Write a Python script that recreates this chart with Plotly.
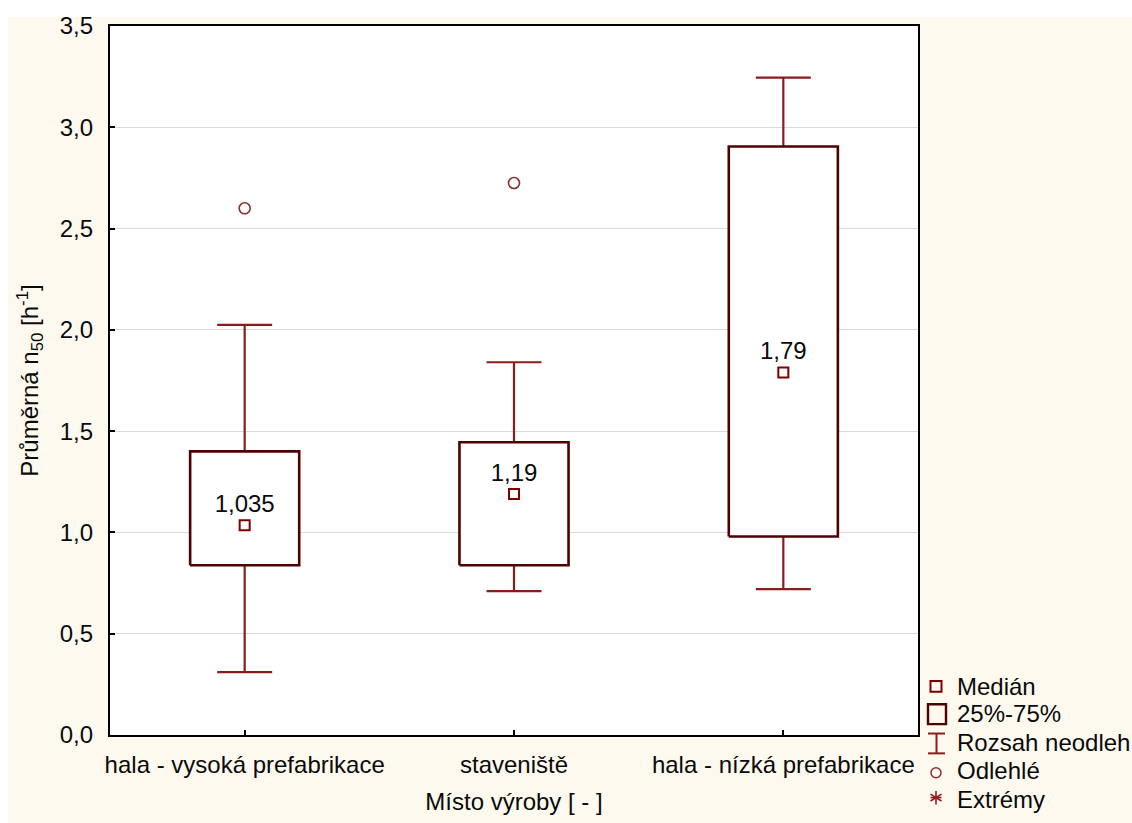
import plotly.graph_objects as go

# Summary statistics per production site
categories = ["hala - vysoká prefabrikace", "staveniště", "hala - nízká prefabrikace"]
medians = [1.035, 1.19, 1.79]
q1 = [0.838, 0.838, 0.98]
q3 = [1.40, 1.445, 2.905]
whisker_low = [0.31, 0.71, 0.72]
whisker_high = [2.025, 1.84, 3.245]
outliers = [2.60, 2.725, None]

y_ticks = [0.0, 0.5, 1.0, 1.5, 2.0, 2.5, 3.0, 3.5]

legend_labels = ["Medián", "25%-75%", "Rozsah neodleh", "Odlehlé", "Extrémy"]

BOX_COLOR = "#4f0000"
WHISKER_COLOR = "#8e1b1b"
MEDIAN_COLOR = "#7d0000"
OUTLIER_COLOR = "#8a3030"
TEXT_COLOR = "#0a0a0a"
CREAM = "#fef9ef"
FONT = "Liberation Sans, Arial, sans-serif"
FS = 24

BOX_HALF = 0.2025
CAP_HALF = 0.102

W, H = 1132, 823
L, R, T, B = 110, 918, 23, 737

xs = list(range(len(categories)))

fig = go.Figure()

# whiskers with end caps
wx, wy = [], []
for i in xs:
    for a, b in ((q3[i], whisker_high[i]), (q1[i], whisker_low[i])):
        wx += [i, i, None, i - CAP_HALF, i + CAP_HALF, None]
        wy += [a, b, None, b, b, None]
fig.add_trace(go.Scatter(x=wx, y=wy, mode="lines",
                         line=dict(color=WHISKER_COLOR, width=2.2),
                         hoverinfo="skip", showlegend=False))

# interquartile boxes
bx, by = [], []
for i in xs:
    bx += [i - BOX_HALF, i + BOX_HALF, i + BOX_HALF, i - BOX_HALF, i - BOX_HALF, None]
    by += [q1[i], q1[i], q3[i], q3[i], q1[i], None]
fig.add_trace(go.Scatter(x=bx, y=by, mode="lines", fill="toself",
                         fillcolor="white",
                         line=dict(color=BOX_COLOR, width=2.6),
                         hoverinfo="skip", showlegend=False))

# medians with value labels
median_text = [f"{m:g}".replace(".", ",") for m in medians]
fig.add_trace(go.Scatter(x=xs, y=medians, mode="markers+text",
                         text=median_text, textposition="top center",
                         textfont=dict(family=FONT, size=FS, color=TEXT_COLOR),
                         marker=dict(symbol="square-open", size=10,
                                     color=MEDIAN_COLOR,
                                     line=dict(width=2, color=MEDIAN_COLOR)),
                         hoverinfo="skip", showlegend=False))

# outliers
ox = [i for i in xs if outliers[i] is not None]
oy = [outliers[i] for i in ox]
fig.add_trace(go.Scatter(x=ox, y=oy, mode="markers",
                         marker=dict(symbol="circle-open", size=11,
                                     color=OUTLIER_COLOR,
                                     line=dict(width=1.6, color=OUTLIER_COLOR)),
                         hoverinfo="skip", showlegend=False))


def px(x):
    return (x - L) / (R - L)


def py(y):
    return (B - y) / (B - T)


shapes = [
    # white strips along the top and left page edges
    dict(type="rect", xref="paper", yref="paper", x0=px(0), x1=px(8),
         y0=py(W), y1=py(-5), fillcolor="white", line_width=0, layer="below"),
    dict(type="rect", xref="paper", yref="paper", x0=px(0), x1=px(W + 5),
         y0=py(14), y1=py(-5), fillcolor="white", line_width=0, layer="below"),
]

# legend symbols
shapes.append(dict(type="rect", xref="paper", yref="paper",
                   x0=px(930.5), x1=px(941.5), y0=py(693.5), y1=py(682.5),
                   line=dict(color=MEDIAN_COLOR, width=2)))
shapes.append(dict(type="rect", xref="paper", yref="paper",
                   x0=px(928), x1=px(946), y0=py(726), y1=py(706),
                   line=dict(color=BOX_COLOR, width=2.4)))
for seg in [((928, 735.5), (945, 735.5)), ((936.5, 735.5), (936.5, 755.5)),
            ((928, 755.5), (945, 755.5))]:
    (x0, y0), (x1, y1) = seg
    shapes.append(dict(type="line", xref="paper", yref="paper",
                       x0=px(x0), x1=px(x1), y0=py(y0), y1=py(y1),
                       line=dict(color=WHISKER_COLOR, width=2)))
shapes.append(dict(type="circle", xref="paper", yref="paper",
                   x0=px(931), x1=px(941), y0=py(780), y1=py(770),
                   line=dict(color=OUTLIER_COLOR, width=1.5)))
for seg in [((936, 793.5), (936, 807)), ((930.5, 796.5), (941.5, 803.5)),
            ((930.5, 803.5), (941.5, 796.5)), ((930.5, 800), (941.5, 800))]:
    (x0, y0), (x1, y1) = seg
    shapes.append(dict(type="line", xref="paper", yref="paper",
                       x0=px(x0), x1=px(x1), y0=py(y0), y1=py(y1),
                       line=dict(color=WHISKER_COLOR, width=1.6)))

annotations = []
for label, ly in zip(legend_labels, [688, 715, 745, 773, 802]):
    annotations.append(dict(text=label, xref="paper", yref="paper",
                            x=px(955), y=py(ly), xanchor="left", yanchor="middle",
                            showarrow=False,
                            font=dict(family=FONT, size=FS, color=TEXT_COLOR)))

fig.update_layout(
    width=W, height=H,
    margin=dict(l=L, r=W - R, t=T, b=H - B, pad=0),
    paper_bgcolor=CREAM, plot_bgcolor="white",
    separators=", ",
    font=dict(family=FONT, size=FS, color=TEXT_COLOR),
    shapes=shapes, annotations=annotations,
    showlegend=False,
)

fig.update_xaxes(
    range=[-0.5, 2.5], tickmode="array", tickvals=xs, ticktext=categories,
    ticks="inside", ticklen=5, tickwidth=1.5, tickcolor="black",
    showline=True, linecolor="black", linewidth=2.2, mirror=True,
    showgrid=False, zeroline=False, ticklabelstandoff=7,
    tickfont=dict(family=FONT, size=FS, color=TEXT_COLOR),
    title=dict(text="Místo výroby [ - ]", standoff=16,
               font=dict(family=FONT, size=FS, color=TEXT_COLOR)),
)
fig.update_yaxes(
    range=[0, 3.5], tickmode="array", tickvals=y_ticks,
    tickformat=".1f",
    ticks="inside", ticklen=5, tickwidth=1.5, tickcolor="black",
    showline=True, linecolor="black", linewidth=2.2, mirror=True,
    showgrid=True, gridcolor="#dadada", gridwidth=1, zeroline=False,
    ticklabelstandoff=10,
    tickfont=dict(family=FONT, size=FS, color=TEXT_COLOR),
    title=dict(text="Průměrná n<sub>50</sub> [h<sup>-1</sup>]", standoff=14,
               font=dict(family=FONT, size=FS, color=TEXT_COLOR)),
)

fig.write_html("out.html")
